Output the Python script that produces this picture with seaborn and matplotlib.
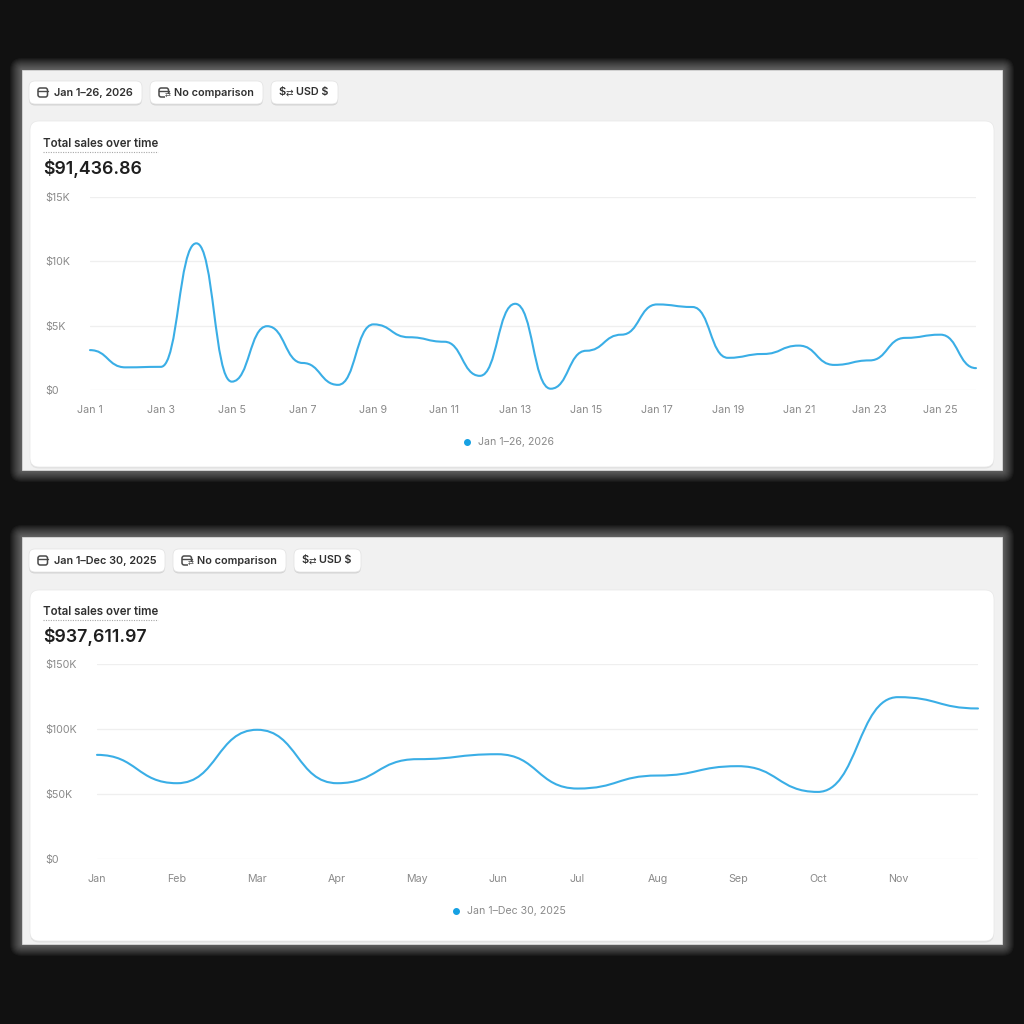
import numpy as np
import pandas as pd
import matplotlib
matplotlib.use("Agg")
import matplotlib.pyplot as plt
import seaborn as sns
from matplotlib.path import Path
from matplotlib.patches import PathPatch, FancyBboxPatch, Rectangle

# --- data ---
days = list(range(1, 27))
day_sales = [3100, 1760, 1800, 11400, 650, 4960, 2100, 400, 5100, 4100, 3750, 1100, 6700,
             100, 3050, 4300, 6650, 6450, 2500, 2800, 3450, 1950, 2300, 4050, 4300, 1700]
day_ticks = list(range(1, 26, 2))
day_tick_labels = [f"Jan {d}" for d in day_ticks]

months = ["Jan", "Feb", "Mar", "Apr", "May", "Jun", "Jul", "Aug", "Sep", "Oct", "Nov", "Dec"]
month_sales = [80100, 58300, 99400, 58300, 76800, 80600, 54200, 64200, 71400, 51600, 124500, 115800]

top_total = "$91,436.86"
bottom_total = "$937,611.97"
top_range = "Jan 1–26, 2026"
bottom_range = "Jan 1–Dec 30, 2025"

LINE = "#3aaee6"
DOT = "#16a1e3"
TICK = "#8a8a8a"
DARK = "#303030"

sns.set_theme(style="white")
plt.rcParams["font.family"] = ["Inter", "DejaVu Sans"]


def bump_curve(xs, ys):
    """Bezier path with flat tangents at every point (like d3 curveBumpX)."""
    verts = [(xs[0], ys[0])]
    codes = [Path.MOVETO]
    for i in range(len(xs) - 1):
        mx = (xs[i] + xs[i + 1]) / 2
        verts += [(mx, ys[i]), (mx, ys[i + 1]), (xs[i + 1], ys[i + 1])]
        codes += [Path.CURVE4] * 3
    return Path(verts, codes)


def draw_chart(ax, frame, xcol, ycol, ymax, ystep, ylabels, xticks, xlabels, left_px):
    sns.lineplot(data=frame, x=xcol, y=ycol, ax=ax)
    line = ax.lines[-1]
    xs, ys = line.get_xdata(), line.get_ydata()
    line.remove()
    ax.add_patch(PathPatch(bump_curve(xs, ys), fill=False, edgecolor=LINE, lw=1.5,
                           capstyle="round", joinstyle="round", clip_on=False, zorder=3))
    ax.set_xlim(xs[0], xs[-1])
    ax.set_ylim(0, ymax)
    ax.set_facecolor("none")
    ax.set_yticks(np.arange(0, ymax + 1, ystep))
    ax.set_yticklabels(ylabels)
    ax.set_xticks(xticks)
    ax.set_xticklabels(xlabels)
    ax.grid(axis="y", color="#efefef", lw=0.9)
    ax.grid(axis="x", visible=False)
    for sp in ax.spines.values():
        sp.set_visible(False)
    ax.tick_params(axis="y", length=0, pad=(left_px - 45) * 0.72, labelsize=7.7, labelcolor=TICK)
    ax.tick_params(axis="x", length=0, pad=11, labelsize=7.7, labelcolor=TICK)
    for lbl in ax.get_yticklabels():
        lbl.set_horizontalalignment("left")
    ax.set_xlabel("")
    ax.set_ylabel("")


fig = plt.figure(figsize=(10.24, 10.24), dpi=100)
fig.patch.set_facecolor("#111111")

ui = fig.add_axes([0, 0, 1, 1], zorder=0)
ui.set_xlim(0, 1024)
ui.set_ylim(1024, 0)
ui.axis("off")


def rbox(x, y, w, h, r, **kw):
    ui.add_patch(FancyBboxPatch((x, y), w, h, boxstyle=f"round,pad=0,rounding_size={r}", **kw))


def panel(top, bottom, card_top, btn_top, buttons, title_y, total, legend_x, legend_y, legend_text):
    # soft glow around the screenshot
    for k in range(1, 13):
        rbox(22 - k, top - k, 980 + 2 * k, bottom - top + 2 * k, k,
             fc="white", ec="none", alpha=0.035)
    ui.add_patch(Rectangle((22, top), 980, bottom - top, fc="#f1f1f1", ec="#d8d8d8", lw=0.6))
    rbox(30, card_top + 1.5, 964, bottom - 3 - card_top, 9, fc="#e0e0e0", ec="none")
    rbox(30, card_top, 964, bottom - 3 - card_top, 9, fc="white", ec="#e8e8e8", lw=0.5)
    for (bx, bw, icon, label, tx) in buttons:
        rbox(bx, btn_top + 1.5, bw, 23, 6, fc="#d4d4d4", ec="none")
        rbox(bx, btn_top, bw, 23, 6, fc="white", ec="#e2e2e2", lw=0.5)
        cy = btn_top + 11.5
        if icon in ("cal", "cmp"):
            rbox(bx + 9, cy - 4.5, 9.5, 9, 2.2, fc="none", ec="#4a4a4a", lw=1.1)
            ui.plot([bx + 9, bx + 18.5], [cy - 1.5, cy - 1.5], color="#4a4a4a", lw=1.0)
            if icon == "cmp":
                ui.add_patch(Rectangle((bx + 15, cy + 1.5), 5, 5, fc="white", ec="none"))
                ui.text(bx + 17.5, cy + 3.5, "⇄", fontsize=5, color="#4a4a4a",
                        ha="center", va="center", family=["DejaVu Sans"])
        else:
            ui.text(bx + 7, cy, "$", fontsize=8, color=DARK, ha="left", va="center",
                    fontweight="semibold")
            ui.text(bx + 14.5, cy + 0.5, "⇄", fontsize=6.5, color=DARK, ha="left", va="center",
                    family=["DejaVu Sans"])
        ui.text(tx, cy, label, fontsize=7.8, color=DARK, ha="left", va="center",
                fontweight="semibold")
    ui.text(43, title_y, "Total sales over time", fontsize=8.3, color=DARK, ha="left",
            va="center", fontweight="semibold")
    ui.plot([43, 158], [title_y + 8, title_y + 8], color="#a8a8a8", lw=0.8, ls=(0, (1, 1.2)))
    ui.text(43, title_y + 25, total, fontsize=12.8, color="#1e1e1e", ha="left", va="center",
            fontweight="semibold")
    ui.scatter([legend_x], [legend_y], s=16, color=DOT, zorder=3)
    ui.text(legend_x + 11, legend_y, legend_text, fontsize=7.6, color=TICK, ha="left",
            va="center")


panel(70, 470, 121, 81,
      [(29, 113, "cal", top_range, 54), (150, 113, "cmp", "No comparison", 174),
       (271, 67, "usd", "USD $", 296)],
      144, top_total, 467, 442, top_range)
panel(537, 944, 590, 549,
      [(29, 136, "cal", bottom_range, 54), (173, 113, "cmp", "No comparison", 197),
       (294, 67, "usd", "USD $", 319)],
      612, bottom_total, 456, 911, bottom_range)


def px_axes(left, right, top, bottom):
    return fig.add_axes([left / 1024, 1 - bottom / 1024, (right - left) / 1024,
                         (bottom - top) / 1024], zorder=2)


daily = pd.DataFrame({"day": days, "sales": day_sales})
monthly = pd.DataFrame({"month": np.arange(len(months)), "sales": month_sales})

ax1 = px_axes(90, 976, 197, 390)
draw_chart(ax1, daily, "day", "sales", 15000, 5000, ["$0", "$5K", "$10K", "$15K"],
           day_ticks, day_tick_labels, 90)

ax2 = px_axes(97, 978, 664, 859)
draw_chart(ax2, monthly, "month", "sales", 150000, 50000, ["$0", "$50K", "$100K", "$150K"],
           list(range(11)), months[:11], 97)

fig.savefig("out.png", dpi=100, facecolor=fig.get_facecolor())
